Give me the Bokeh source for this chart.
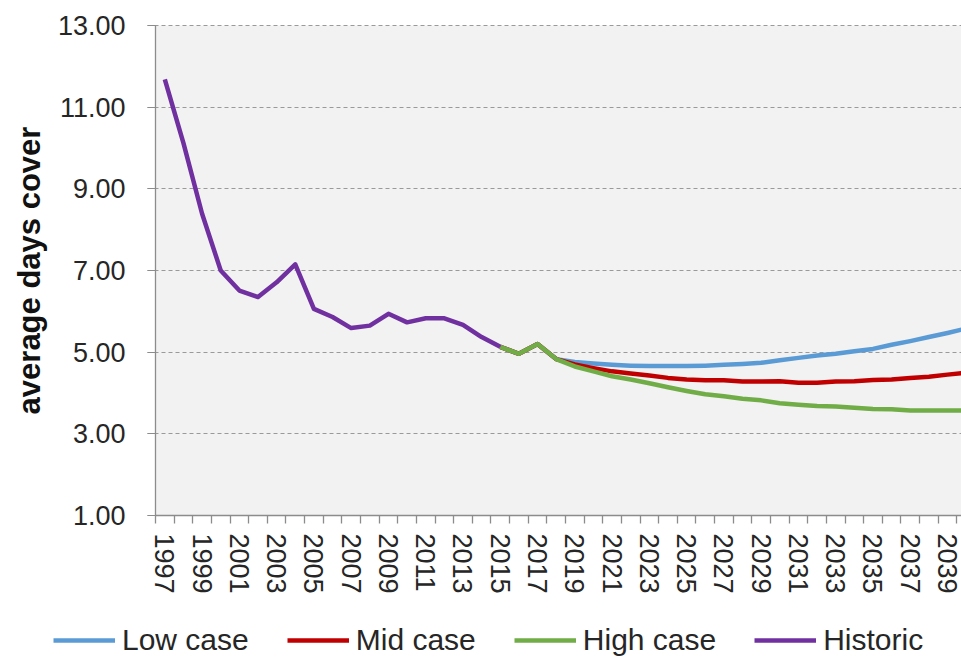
from bokeh.plotting import figure
from bokeh.models import (FixedTicker, NumeralTickFormatter, Legend, LegendItem, Range1d,
                          LinearAxis, Grid, BoxAnnotation)
from bokeh.embed import file_html
from bokeh.resources import INLINE

# ---- data ----
hist_years = list(range(1997, 2016))
historic = [11.68, 10.12, 8.39, 7.00, 6.51, 6.35, 6.71, 7.15, 6.06, 5.86,
            5.59, 5.65, 5.94, 5.73, 5.83, 5.83, 5.67, 5.37, 5.13]

fc_years = list(range(2015, 2041))
low_case = [5.13, 4.96, 5.20, 4.83, 4.76, 4.72, 4.69, 4.67, 4.66, 4.66, 4.66, 4.67, 4.69,
            4.71, 4.74, 4.80, 4.86, 4.92, 4.96, 5.02, 5.08, 5.18, 5.27, 5.37, 5.47, 5.58]
mid_case = [5.13, 4.96, 5.20, 4.83, 4.70, 4.61, 4.53, 4.48, 4.43, 4.37, 4.33, 4.31, 4.31,
            4.28, 4.28, 4.29, 4.25, 4.25, 4.28, 4.29, 4.32, 4.33, 4.37, 4.40, 4.45, 4.50]
high_case = [5.13, 4.96, 5.20, 4.83, 4.65, 4.53, 4.41, 4.33, 4.24, 4.14, 4.05, 3.97, 3.92,
             3.86, 3.82, 3.75, 3.71, 3.68, 3.67, 3.64, 3.61, 3.60, 3.57, 3.57, 3.57, 3.57]

series_names = ["Low case", "Mid case", "High case", "Historic"]
series_colors = ["#5b9bd5", "#c00000", "#70ad47", "#7030a0"]

y_ticks = [1, 3, 5, 7, 9, 11, 13]
x_label_years = list(range(1997, 2040, 2))

# ---- page geometry (pixels) ----
W_PX, H_PX = 961, 657
AREA_L, AREA_R, AREA_T, AREA_B = 155, 961, 25, 515
X0, X1 = 1996.5, 2039.75          # category edges visible in the plot area
Y0, Y1 = y_ticks[0], y_ticks[-1]
px_x = (AREA_R - AREA_L) / (X1 - X0)
px_y = (AREA_B - AREA_T) / (Y1 - Y0)
x_start = X0 - AREA_L / px_x
y_start = Y0 - (H_PX - AREA_B) / px_y
y_end = Y1 + AREA_T / px_y

FONT = "Liberation Sans"
TXT = "#262626"
AX = "#8c8c8c"
LW = 4.5

p = figure(width=W_PX, height=H_PX,
           x_range=Range1d(x_start, X1), y_range=Range1d(y_start, y_end),
           output_backend="svg", toolbar_location=None,
           x_axis_location=None, y_axis_location=None, min_border=0)
p.background_fill_color = "white"
p.border_fill_color = "white"
p.outline_line_color = None
p.grid.visible = False

# plot-area fill
p.add_layout(BoxAnnotation(left=X0, right=X1, bottom=Y0, top=Y1, level="underlay",
                           fill_color="#f2f2f2", fill_alpha=1, line_color=None))

# horizontal dashed grid
if "cross_bounds" in Grid.properties():
    g = Grid(dimension=1, ticker=FixedTicker(ticks=y_ticks), cross_bounds=(X0 - 8 / px_x, X1),
             grid_line_color="#9a9a9a", grid_line_dash="4 3", grid_line_width=1)
    p.add_layout(g)
else:
    p.segment(x0=X0 - 8 / px_x, x1=X1, y0=y_ticks, y1=y_ticks, line_color="#9a9a9a",
              line_dash="4 3", line_width=1, level="underlay")

# y axis
yax = LinearAxis(fixed_location=X0, bounds=(Y0, Y1),
                 ticker=FixedTicker(ticks=y_ticks),
                 formatter=NumeralTickFormatter(format="0.00"),
                 axis_label="average days cover",
                 axis_label_text_font=FONT, axis_label_text_font_style="bold",
                 axis_label_text_font_size="31px", axis_label_text_color="#111111",
                 axis_label_standoff=8,
                 major_label_text_font=FONT, major_label_text_font_size="27px",
                 major_label_text_color=TXT, major_label_standoff=22,
                 major_tick_out=8, major_tick_in=0, major_tick_line_color=AX,
                 minor_tick_line_color=None,
                 axis_line_color=AX, axis_line_width=1.3)
p.add_layout(yax, "left")

# x axis (category edges as minor ticks, odd years labelled)
boundaries = [y - 0.5 for y in range(1997, 2041)]
xax = LinearAxis(fixed_location=Y0, bounds=(X0, X1),
                 ticker=FixedTicker(ticks=x_label_years, minor_ticks=boundaries),
                 major_label_orientation="vertical",
                 major_label_text_font=FONT, major_label_text_font_size="27px",
                 major_label_text_color=TXT, major_label_standoff=10,
                 major_tick_out=8, major_tick_in=0, major_tick_line_color=None,
                 minor_tick_out=8, minor_tick_in=0, minor_tick_line_color=AX,
                 minor_tick_line_width=1.3,
                 axis_line_color=AX, axis_line_width=1.3)
p.add_layout(xax, "below")

r_low = p.line(fc_years, low_case, line_color=series_colors[0], line_width=LW, line_join="round")
r_mid = p.line(fc_years, mid_case, line_color=series_colors[1], line_width=LW, line_join="round")
r_high = p.line(fc_years, high_case, line_color=series_colors[2], line_width=LW, line_join="round")
r_hist = p.line(hist_years, historic, line_color=series_colors[3], line_width=LW, line_join="round")

renderers = [r_low, r_mid, r_high, r_hist]
legend = Legend(items=[LegendItem(label=n, renderers=[r]) for n, r in zip(series_names, renderers)],
                location=(53, 0), orientation="horizontal",
                label_text_font=FONT, label_text_font_size="30px",
                label_text_color=TXT,
                glyph_width=62, glyph_height=30, label_height=30,
                label_standoff=7, spacing=38, padding=0, margin=0,
                background_fill_alpha=0, border_line_color=None)
p.add_layout(legend)

open("out.html", "w").write(file_html(p, INLINE))
